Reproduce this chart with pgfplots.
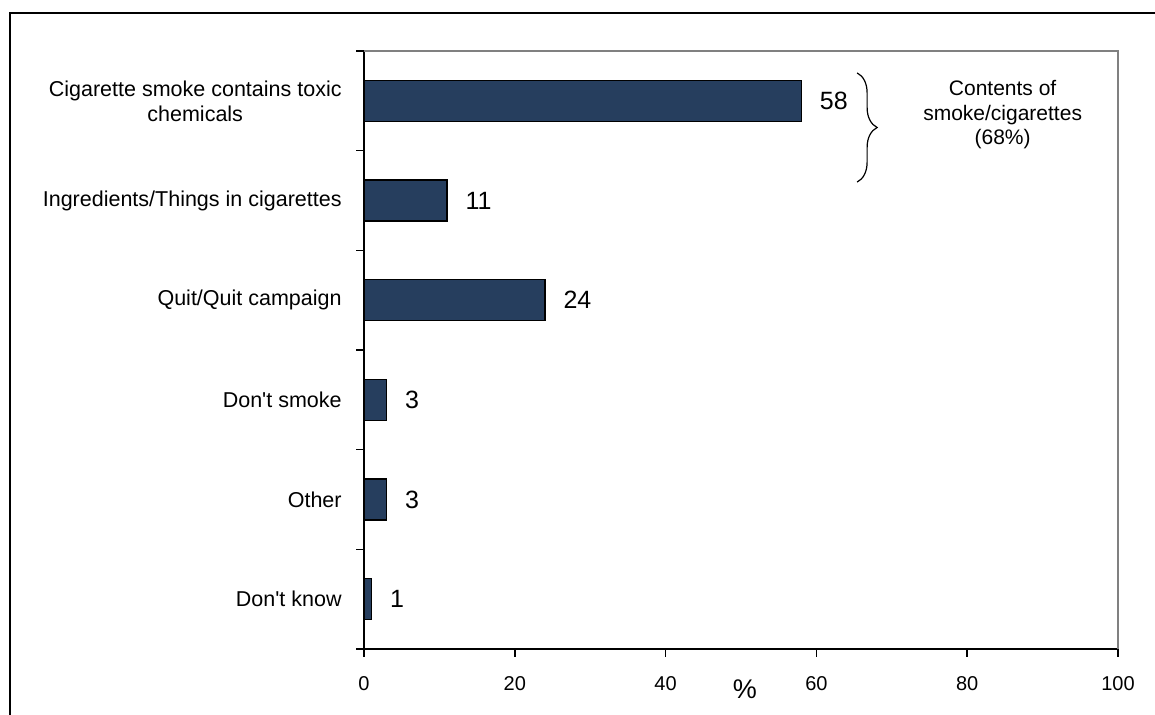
\documentclass[border=0pt]{standalone}
\usepackage{fontspec}
\setmainfont{Liberation Sans}
\usepackage{pgfplots}
\pgfplotsset{compat=1.18}
\usetikzlibrary{decorations.pathreplacing}
\definecolor{barnavy}{RGB}{38,62,94}
\definecolor{axgray}{RGB}{128,128,128}
\begin{document}
\begin{tikzpicture}
\useasboundingbox (0,0) rectangle (577.5pt,357.5pt);
\draw[line width=1pt] (5pt,0) -- (5pt,351pt) -- (577.5pt,351pt);
\begin{axis}[
  at={(182pt,33pt)}, anchor=south west,
  width=377pt, height=299pt, scale only axis,
  xmin=0, xmax=100, ymin=0, ymax=6,
  axis lines*=left,
  axis line style={line width=1pt, black},
  tick align=outside,
  tick style={line width=0.8pt, black},
  major tick length=3.8pt,
  xtick={0,20,...,100},
  xticklabel style={font=\fontsize{10}{12}\selectfont, inner sep=0pt, anchor=north, yshift=-10pt},
  /pgf/number format/assume math mode=true,
  ytick={0,1,...,6},
  yticklabels={},
  extra y ticks={5.5,4.5,3.5,2.5,1.5,0.5},
  extra y tick labels={{Cigarette smoke contains toxic\\chemicals},{Ingredients/Things in cigarettes},{Quit/Quit campaign},{Don\textquotesingle t smoke},{Other},{Don\textquotesingle t know}},
  extra y tick style={major tick length=0pt, yticklabel style={font=\fontsize{10.75}{12.5}\selectfont, align=center, anchor=east, inner sep=0pt, xshift=-11pt}},
  xlabel={\%},
  xlabel style={font=\fontsize{13.5}{15}\selectfont, at={(axis description cs:0.505,0)}, anchor=center, yshift=-20pt},
  clip=false,
]
\addplot[xbar, bar width=20.5pt, fill=barnavy, draw=black, line width=0.6pt,
  nodes near coords, point meta=x,
  every node near coord/.append style={font=\fontsize{12.5}{14}\selectfont, anchor=west, inner sep=0pt, xshift=9pt, text=black},
  nodes near coords={\pgfmathprintnumber{\pgfplotspointmeta}},
] coordinates {(58,5.5) (11,4.5) (24,3.5) (3,2.5) (3,1.5) (1,0.5)};
\draw[axgray, line width=1pt] (axis description cs:0,1) -- (axis description cs:1,1) -- (axis description cs:1,0);
\draw[decorate, decoration={brace, amplitude=10pt}, line width=0.6pt] (axis cs:65.4,5.78) -- (axis cs:65.4,4.685);
\node[align=center, font=\fontsize{10.5}{12.3}\selectfont] at (axis cs:84.7,5.36) {Contents of\\smoke/cigarettes\\(68\%)};
\end{axis}
\end{tikzpicture}
\end{document}
